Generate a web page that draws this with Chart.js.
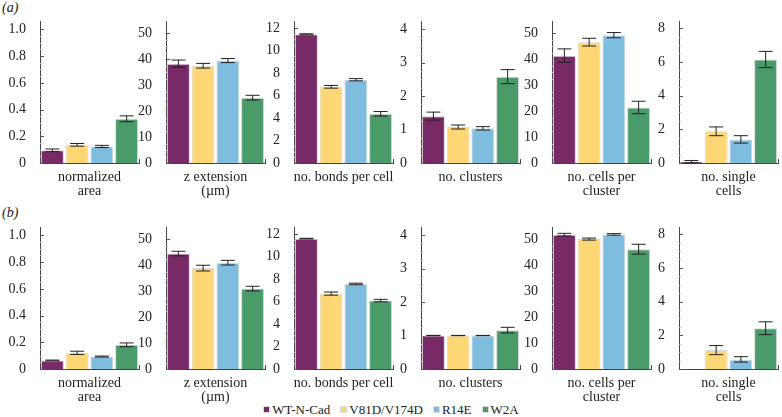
<!DOCTYPE html>
<html>
<head>
<meta charset="utf-8">
<script src="https://cdn.jsdelivr.net/npm/chart.js@4.4.1/dist/chart.umd.min.js"></script>
<style>
    body { margin: 0; background: #fff; }
    #wrap { position: relative; width: 782px; height: 417px; overflow: hidden; font-family: "Liberation Serif", "DejaVu Serif", serif; color: #222; }
    #wrap canvas { position: absolute; }
    .tag { position: absolute; left: 2px; font-size: 14px; font-style: italic; line-height: 16px; }
    #legend { position: absolute; left: 0; top: 402px; width: 782px; text-align: center; font-size: 13px; line-height: 16px; }
    #legend span.item { display: inline-block; margin: 0 5px; }
    #legend span.sw { display: inline-block; width: 7px; height: 7px; margin-right: 2px; border: 1px solid #ddd; box-sizing: border-box; vertical-align: 1px; }
</style>
</head>
<body>
<div id="wrap">
    <div class="tag" style="top:0px">(a)</div>
    <div class="tag" style="top:205px">(b)</div>
    <div id="legend"></div>
</div>
<script>
// Datos del grafico
const variantes = ['WT-N-Cad', 'V81D/V174D', 'R14E', 'W2A'];
const colores = ['#782a66', '#fdd675', '#7fbddf', '#4b9a6a'];
const metricas = [['normalized', 'area'], ['z extension', '(\u00b5m)'], ['no. bonds per cell'], ['no. clusters'], ['no. cells per', 'cluster'], ['no. single', 'cells']];

// fila (a)
const wtA = [0.095, 38.3, 11.45, 1.40, 41.4, 0.08];
const v81A = [0.136, 37.5, 6.78, 1.075, 46.6, 1.88];
const r14A = [0.124, 39.5, 7.41, 1.036, 49.3, 1.40];
const w2aA = [0.331, 25.2, 4.38, 2.58, 21.4, 6.14];
const wtAErr = [0.010, 1.4, 0.05, 0.12, 2.6, 0.07];
const v81AErr = [0.010, 0.9, 0.12, 0.06, 1.5, 0.26];
const r14AErr = [0.008, 0.8, 0.10, 0.05, 1.0, 0.22];
const w2aAErr = [0.022, 0.9, 0.20, 0.21, 2.4, 0.48];

// fila (b)
const wtB = [0.064, 44.5, 11.6, 1.0, 51.8, 0];
const v81B = [0.121, 38.9, 6.71, 1.0, 50.1, 1.12];
const r14B = [0.093, 41.0, 7.57, 1.0, 51.9, 0.57];
const w2aB = [0.181, 31.0, 6.09, 1.16, 46.2, 2.42];
const wtBErr = [0.003, 0.9, 0.03, 0.005, 0.5, 0];
const v81BErr = [0.012, 1.1, 0.14, 0.004, 0.4, 0.27];
const r14BErr = [0.004, 0.9, 0.07, 0.004, 0.3, 0.16];
const w2aBErr = [0.014, 0.9, 0.11, 0.085, 1.9, 0.38];

// marcas del eje y
const ticksArea = [0, 0.2, 0.4, 0.6, 0.8, 1.0];
const ticksZ = [0, 10, 20, 30, 40, 50];
const ticksBonds = [0, 2, 4, 6, 8, 10, 12];
const ticksClusters = [0, 1, 2, 3, 4];
const ticksCells = [0, 10, 20, 30, 40, 50];
const ticksSingle = [0, 2, 4, 6, 8];
const ticksY = [ticksArea, ticksZ, ticksBonds, ticksClusters, ticksCells, ticksSingle];
const maxY = [1.06, 54.6, 12.6, 4.23, 54.6, 8.4];

// posicion de cada panel
const ejeX = [40, 166, 294, 421, 552, 679];
const filaTop = [17, 223];
const ANCHO_Y = 38, ANCHO_PLOT = 99, ALTO_PLOT = 146, ALTO_X = 40, PAD_TOP = 10, PAD_DER = 6;
const FUENTE = 'Liberation Serif';

const filas = [
    { vals: [wtA, v81A, r14A, w2aA], errs: [wtAErr, v81AErr, r14AErr, w2aAErr] },
    { vals: [wtB, v81B, r14B, w2aB], errs: [wtBErr, v81BErr, r14BErr, w2aBErr] }
];

Chart.defaults.font.family = FUENTE;
Chart.defaults.color = '#222';

// barras de error y marcas hacia dentro
const barrasError = {
    id: 'barrasError',
    beforeDatasetsDraw(chart) {
        const ctx = chart.ctx, y = chart.scales.y, a = chart.chartArea;
        const mayores = chart.options.plugins.barrasError.ticks;
        ctx.save();
        ctx.lineWidth = 1;
        for (let i = 0; i < mayores.length; i++) {
            const py = Math.round(y.getPixelForValue(mayores[i])) + 0.5;
            ctx.strokeStyle = '#555';
            ctx.beginPath(); ctx.moveTo(a.left, py); ctx.lineTo(a.left + 4, py); ctx.stroke();
            if (i < mayores.length - 1) {
                const paso = (mayores[i + 1] - mayores[i]) / 4;
                ctx.strokeStyle = '#bbb';
                for (let k = 1; k < 4; k++) {
                    const my = Math.round(y.getPixelForValue(mayores[i] + k * paso)) + 0.5;
                    ctx.beginPath(); ctx.moveTo(a.left, my); ctx.lineTo(a.left + 2, my); ctx.stroke();
                }
            }
        }
        ctx.restore();
    },
    afterDatasetsDraw(chart) {
        const ctx = chart.ctx, y = chart.scales.y, a = chart.chartArea;
        ctx.save();
        ctx.strokeStyle = '#222';
        ctx.lineWidth = 1;
        chart.data.datasets.forEach((ds, i) => {
            if (!ds.err) return;
            const bar = chart.getDatasetMeta(i).data[0];
            const v = ds.data[0];
            const t = y.getPixelForValue(v + ds.err);
            const b = y.getPixelForValue(v - ds.err);
            ctx.beginPath();
            ctx.moveTo(bar.x, t); ctx.lineTo(bar.x, b);
            ctx.moveTo(bar.x - 7, t); ctx.lineTo(bar.x + 7, t);
            ctx.moveTo(bar.x - 7, b); ctx.lineTo(bar.x + 7, b);
            ctx.stroke();
        });
        // marca al final del eje x
        ctx.strokeStyle = '#444';
        ctx.beginPath();
        ctx.moveTo(a.right + 0.5, a.bottom); ctx.lineTo(a.right + 0.5, a.bottom - 4);
        ctx.stroke();
        ctx.restore();
    }
};

function formatoTick(panel) {
    return function(v) {
        if (panel === 0) return v === 0 ? '0' : v.toFixed(1);
        return String(v);
    };
}

function crearPanel(fila, panel) {
    const canvas = document.createElement('canvas');
    const w = ANCHO_Y + ANCHO_PLOT + PAD_DER;
    const h = PAD_TOP + ALTO_PLOT + ALTO_X;
    canvas.width = w;
    canvas.height = h;
    canvas.style.width = w + 'px';
    canvas.style.height = h + 'px';
    canvas.style.left = (ejeX[panel] - ANCHO_Y) + 'px';
    canvas.style.top = (filaTop[fila] - PAD_TOP) + 'px';
    document.getElementById('wrap').appendChild(canvas);

    const datos = filas[fila];
    new Chart(canvas, {
        type: 'bar',
        data: {
            labels: [metricas[panel]],
            datasets: variantes.map((nombre, i) => ({
                label: nombre,
                data: [datos.vals[i][panel]],
                err: datos.errs[i][panel],
                backgroundColor: colores[i],
                borderColor: '#d9d9d9',
                borderWidth: 1,
                categoryPercentage: 1,
                barPercentage: 0.93
            }))
        },
        options: {
            responsive: false,
            animation: false,
            layout: { padding: { top: PAD_TOP, right: PAD_DER, left: 0, bottom: 0 } },
            plugins: {
                legend: { display: false },
                tooltip: { enabled: false },
                barrasError: { ticks: ticksY[panel] }
            },
            scales: {
                x: {
                    grid: { display: false },
                    border: { display: true, color: '#444', width: 1 },
                    ticks: {
                        color: '#222',
                        font: { family: FUENTE, size: 14, lineHeight: 1.0 },
                        padding: -1,
                        maxRotation: 0,
                        autoSkip: false
                    },
                    afterFit: s => { s.height = ALTO_X; }
                },
                y: {
                    z: 1,
                    min: 0,
                    max: maxY[panel],
                    grid: { display: false },
                    border: { display: true, color: '#444', width: 1 },
                    ticks: {
                        color: '#222',
                        font: { family: FUENTE, size: 14 },
                        padding: 6,
                        callback: formatoTick(panel)
                    },
                    afterBuildTicks: s => { s.ticks = ticksY[panel].map(v => ({ value: v })); },
                    afterFit: s => { s.width = ANCHO_Y; }
                }
            }
        },
        plugins: [barrasError]
    });
}

// Leyenda comun
function crearLeyenda() {
    const leyenda = document.getElementById('legend');
    leyenda.innerHTML = variantes.map((n, i) =>
        `<span class="item"><span class="sw" style="background:${colores[i]}"></span>${n}</span>`
    ).join('');
}

function dibujarTodo() {
    for (let f = 0; f < 2; f++) {
        for (let p = 0; p < 6; p++) crearPanel(f, p);
    }
    crearLeyenda();
}

document.addEventListener('DOMContentLoaded', function() {
    // esperar a que la fuente este lista para el canvas
    document.fonts.load('14px "' + FUENTE + '"').then(dibujarTodo, dibujarTodo);
});
</script>
</body>
</html>
